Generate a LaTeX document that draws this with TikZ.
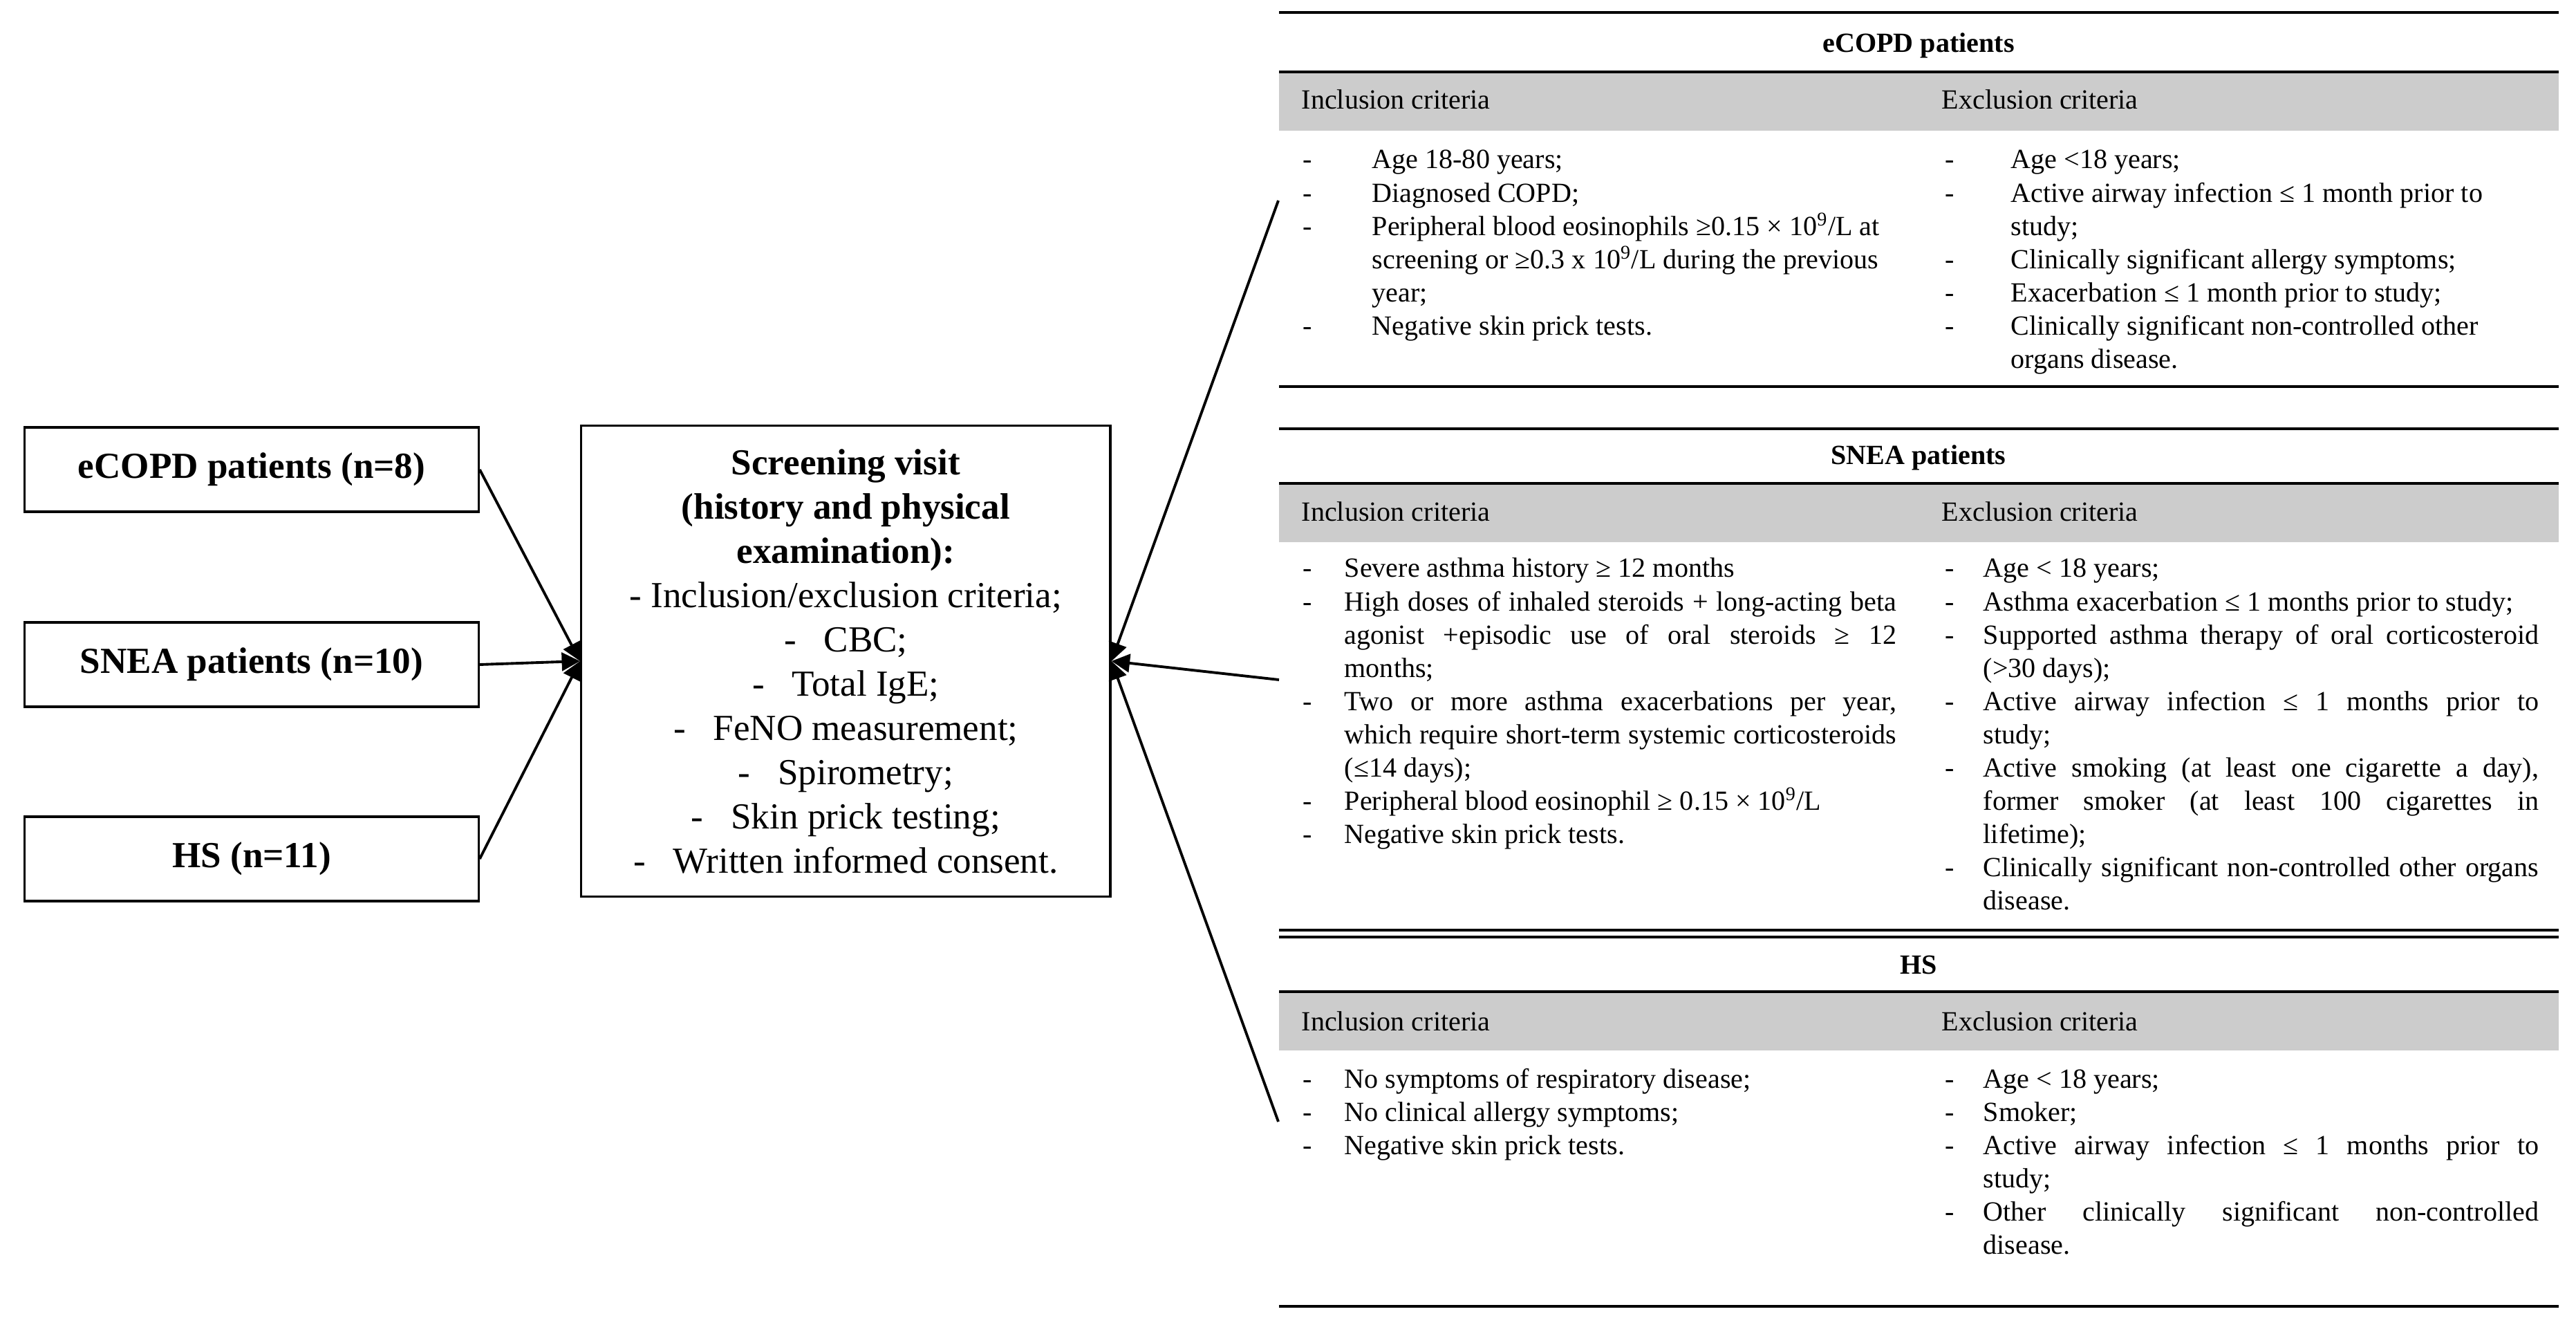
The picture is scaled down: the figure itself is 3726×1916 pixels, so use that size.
\documentclass[tikz,border=0pt]{standalone}
\usepackage{fontspec}
\setmainfont{Liberation Serif}
\usepackage{xcolor}
\usepackage{tikz}
\usetikzlibrary{arrows.meta,positioning,calc}

\definecolor{bandgray}{HTML}{CCCCCC}
\newlength{\critind}
\newcommand{\critfont}{\fontsize{11.4}{13.66}\selectfont}
\newcommand{\critem}[1]{\noindent\hangindent=\critind\hangafter=1\makebox[\critind][l]{-}#1\par}

\tikzset{
  groupbox/.style={draw,line width=0.95pt,minimum width=6.56cm,minimum height=1.22cm,
    font=\fontsize{15.1}{18}\selectfont\bfseries},
  visitbox/.style={draw,line width=0.95pt,minimum width=7.65cm,minimum height=6.81cm,
    align=center,font=\fontsize{15.1}{18.2}\selectfont},
  link/.style={line width=1.1pt,-{Triangle[length=7.5pt,width=7.5pt]}},
  tabrule/.style={line width=1.4pt},
  crittitle/.style={anchor=base,inner sep=0pt,font=\critfont\bfseries},
  colhead/.style={anchor=base west,inner sep=0pt,font=\critfont},
  critcol/.style={anchor=base west,inner sep=0pt,text width=8.58cm,align=justify,
    font=\critfont,execute at begin node={\setlength{\critind}{#1}\tolerance=10000}},
}

\begin{document}
\begin{tikzpicture}[x=0.01cm,y=-0.01cm]
  \fill[white] (0,0) rectangle (3726,1916);
  \useasboundingbox (0,0) rectangle (3726,1916);

  % Groups and screening visit
  \node[groupbox] (ecopd) at (364,679) {eCOPD patients (n=8)};
  \node[groupbox] (snea) at (364,961) {SNEA patients (n=10)};
  \node[groupbox] (hs) at (364,1242) {HS (n=11)};
  \node[visitbox,right=1.45cm of snea,yshift=0.05cm] (visit) {%
    \textbf{Screening visit}\\
    \textbf{(history and physical}\\
    \textbf{examination):}\\
    - Inclusion/exclusion criteria;\\
    -\hspace{0.75em}CBC;\\
    -\hspace{0.75em}Total IgE;\\
    -\hspace{0.75em}FeNO measurement;\\
    -\hspace{0.75em}Spirometry;\\
    -\hspace{0.75em}Skin prick testing;\\
    -\hspace{0.75em}Written informed consent.};

  \draw[link] (ecopd.east) -- (visit.west);
  \draw[link] (snea.east) -- (visit.west);
  \draw[link] (hs.east) -- (visit.west);

  % Criteria tables: grey header bands and rules
  \foreach \y in {104,699,1434}
    \fill[bandgray] (1850,\y) rectangle (3701,\y+85);
  \foreach \y in {18,104,559,620,699,1345,1434,1889}
    \draw[tabrule] (1850,\y) -- (3701,\y);
  \draw[line width=1pt] (1850,1355) -- (3701,1355);

  % eCOPD patients
  \node[crittitle] (titleA) at (2775,76) {eCOPD patients};
  \node[colhead] (inA) at (1882,158) {Inclusion criteria};
  \node[colhead] (exA) at (2808,158) {Exclusion criteria};
  \node[critcol=1cm] (incA) at (1884,244) {%
    \critem{Age 18-80 years;}
    \critem{Diagnosed COPD;}
    \critem{Peripheral blood eosinophils ≥0.15 × 10\textsuperscript{9}/L at\newline
      screening or ≥0.3 x 10\textsuperscript{9}/L during the previous\newline year;}
    \critem{Negative skin prick tests.}};
  \node[critcol=0.95cm] (excA) at (2813,244) {%
    \critem{Age <18 years;}
    \critem{Active airway infection ≤ 1 month prior to\newline study;}
    \critem{Clinically significant allergy symptoms;}
    \critem{Exacerbation ≤ 1 month prior to study;}
    \critem{Clinically significant non-controlled other\newline organs disease.}};

  % SNEA patients
  \node[crittitle] (titleB) at (2775,672) {SNEA patients};
  \node[colhead] (inB) at (1882,754) {Inclusion criteria};
  \node[colhead] (exB) at (2808,754) {Exclusion criteria};
  \node[critcol=0.6cm] (incB) at (1884,835) {%
    \critem{Severe asthma history ≥ 12 months}
    \critem{High doses of inhaled steroids + long-acting beta\linebreak
      agonist +episodic use of oral steroids ≥ 12\linebreak months;}
    \critem{Two or more asthma exacerbations per year,\linebreak
      which require short-term systemic corticosteroids\linebreak (≤14 days);}
    \critem{Peripheral blood eosinophil ≥ 0.15 × 10\textsuperscript{9}/L}
    \critem{Negative skin prick tests.}};
  \node[critcol=0.55cm] (excB) at (2813,835) {%
    \critem{Age < 18 years;}
    \critem{Asthma exacerbation ≤ 1 months prior to study;}
    \critem{Supported asthma therapy of oral corticosteroid\linebreak (>30 days);}
    \critem{Active airway infection ≤ 1 months prior to\linebreak study;}
    \critem{Active smoking (at least one cigarette a day),\linebreak
      former smoker (at least 100 cigarettes in\linebreak lifetime);}
    \critem{Clinically significant non-controlled other organs\linebreak disease.}};

  % HS
  \node[crittitle] (titleC) at (2775,1408) {HS};
  \node[colhead] (inC) at (1882,1490) {Inclusion criteria};
  \node[colhead] (exC) at (2808,1490) {Exclusion criteria};
  \node[critcol=0.6cm] (incC) at (1884,1573) {%
    \critem{No symptoms of respiratory disease;}
    \critem{No clinical allergy symptoms;}
    \critem{Negative skin prick tests.}};
  \node[critcol=0.55cm] (excC) at (2813,1573) {%
    \critem{Age < 18 years;}
    \critem{Smoker;}
    \critem{Active airway infection ≤ 1 months prior to\linebreak study;}
    \critem{Other clinically significant non-controlled\linebreak disease.}};

  % Criteria pointing back to the screening visit
  \coordinate (fromA) at (1849,290);
  \coordinate (fromB) at (1850,983);
  \coordinate (fromC) at (1849,1622);
  \draw[link] (fromA) -- (visit.east);
  \draw[link] (fromB) -- (visit.east);
  \draw[link] (fromC) -- (visit.east);
\end{tikzpicture}
\end{document}
